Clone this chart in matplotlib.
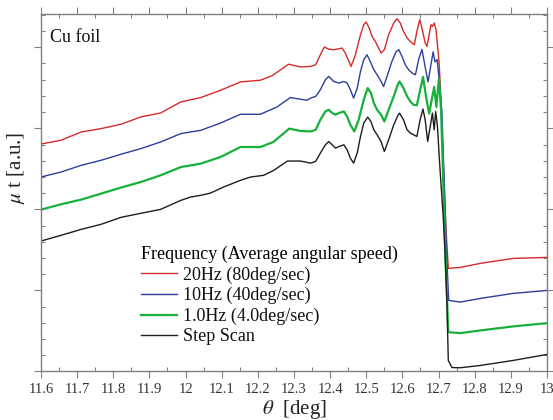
import numpy as np
import matplotlib
matplotlib.use("Agg")
import matplotlib.pyplot as plt
from matplotlib.ticker import MultipleLocator, NullFormatter

plt.rcParams["font.family"] = ["Liberation Serif", "DejaVu Serif"]
plt.rcParams["mathtext.fontset"] = "stix"

# values (theta [deg], mu t [a.u.])
theta_red = [11.600, 11.655, 11.711, 11.766, 11.821, 11.876, 11.931, 11.987, 12.042, 12.097,
             12.152, 12.207, 12.240, 12.285, 12.318, 12.346, 12.360, 12.373, 12.384, 12.396,
             12.410, 12.424, 12.433, 12.442, 12.452, 12.458, 12.470, 12.484, 12.493, 12.500,
             12.510, 12.516, 12.525, 12.534, 12.541, 12.550, 12.562, 12.576, 12.585, 12.594,
             12.603, 12.613, 12.620, 12.627, 12.633, 12.640, 12.648, 12.654, 12.663, 12.668,
             12.674, 12.679, 12.683, 12.688, 12.693, 12.697, 12.702, 12.707, 12.713, 12.720,
             12.727, 12.760, 12.815, 12.906, 13.000]
mu_red = [2.806, 2.852, 2.954, 2.996, 3.049, 3.140, 3.189, 3.325, 3.379, 3.469,
          3.572, 3.593, 3.650, 3.790, 3.757, 3.763, 3.784, 3.907, 4.002, 3.977,
          3.969, 3.981, 3.990, 3.928, 3.825, 3.763, 3.907, 4.154, 4.278, 4.311,
          4.216, 4.133, 4.072, 3.990, 3.928, 3.969, 4.154, 4.299, 4.352, 4.299,
          4.195, 4.114, 4.080, 4.052, 4.031, 4.195, 4.340, 4.237, 4.052, 4.010,
          4.154, 4.278, 4.257, 4.299, 4.216, 4.031, 3.784, 3.290, 2.600, 1.800,
          1.272, 1.284, 1.333, 1.395, 1.407]

theta_blue = [11.600, 11.655, 11.711, 11.766, 11.821, 11.876, 11.931, 11.987, 12.042, 12.097,
              12.152, 12.207, 12.253, 12.290, 12.336, 12.346, 12.360, 12.373, 12.387, 12.396,
              12.410, 12.424, 12.438, 12.447, 12.456, 12.465, 12.475, 12.484, 12.493, 12.502,
              12.511, 12.521, 12.530, 12.541, 12.548, 12.559, 12.571, 12.583, 12.590, 12.599,
              12.608, 12.617, 12.627, 12.636, 12.645, 12.654, 12.662, 12.671, 12.678, 12.685,
              12.690, 12.696, 12.701, 12.709, 12.716, 12.722, 12.728, 12.760, 12.815, 12.906,
              13.000]
mu_blue = [2.399, 2.460, 2.543, 2.605, 2.679, 2.749, 2.831, 2.935, 2.975, 3.065,
           3.173, 3.173, 3.263, 3.379, 3.346, 3.373, 3.393, 3.475, 3.599, 3.640,
           3.578, 3.558, 3.578, 3.558, 3.475, 3.373, 3.496, 3.701, 3.846, 3.907,
           3.825, 3.722, 3.660, 3.578, 3.516, 3.660, 3.825, 3.948, 3.969, 3.886,
           3.784, 3.722, 3.681, 3.660, 3.850, 3.972, 3.780, 3.572, 3.760, 3.942,
           3.819, 3.848, 3.633, 3.222, 2.300, 1.500, 0.877, 0.856, 0.901, 0.963,
           1.000]

theta_green = [11.600, 11.655, 11.711, 11.766, 11.821, 11.876, 11.931, 11.987, 12.042, 12.097,
               12.152, 12.207, 12.243, 12.287, 12.318, 12.346, 12.360, 12.373, 12.387, 12.396,
               12.406, 12.415, 12.424, 12.438, 12.447, 12.456, 12.467, 12.479, 12.493, 12.504,
               12.513, 12.521, 12.530, 12.541, 12.550, 12.562, 12.576, 12.587, 12.592, 12.603,
               12.613, 12.622, 12.631, 12.640, 12.648, 12.657, 12.665, 12.674, 12.681, 12.688,
               12.694, 12.701, 12.707, 12.714, 12.720, 12.727, 12.760, 12.815, 12.906, 13.000]
mu_green = [1.996, 2.062, 2.120, 2.194, 2.268, 2.337, 2.420, 2.522, 2.564, 2.646,
            2.769, 2.769, 2.831, 2.996, 2.967, 2.961, 2.981, 3.105, 3.208, 3.228,
            3.188, 3.167, 3.188, 3.208, 3.146, 3.043, 2.961, 3.105, 3.352, 3.496,
            3.435, 3.311, 3.228, 3.167, 3.084, 3.228, 3.393, 3.537, 3.578, 3.496,
            3.393, 3.331, 3.290, 3.284, 3.450, 3.633, 3.400, 3.181, 3.350, 3.510,
            3.263, 3.614, 3.222, 2.200, 1.300, 0.485, 0.473, 0.506, 0.556, 0.596]

theta_step = [11.600, 11.655, 11.711, 11.766, 11.821, 11.876, 11.931, 11.987, 12.014, 12.042,
              12.069, 12.105, 12.152, 12.180, 12.216, 12.244, 12.282, 12.318, 12.346, 12.360,
              12.373, 12.387, 12.396, 12.406, 12.415, 12.424, 12.438, 12.447, 12.456, 12.465,
              12.475, 12.484, 12.493, 12.504, 12.513, 12.521, 12.530, 12.541, 12.550, 12.562,
              12.576, 12.587, 12.592, 12.603, 12.613, 12.622, 12.631, 12.640, 12.649, 12.657,
              12.663, 12.670, 12.677, 12.683, 12.688, 12.692, 12.697, 12.703, 12.713, 12.718,
              12.723, 12.727, 12.737, 12.760, 12.815, 12.906, 13.000]
mu_step = [1.609, 1.679, 1.753, 1.815, 1.901, 1.951, 2.000, 2.111, 2.152, 2.173,
           2.201, 2.275, 2.358, 2.399, 2.420, 2.481, 2.596, 2.596, 2.570, 2.591,
           2.694, 2.796, 2.837, 2.796, 2.755, 2.775, 2.796, 2.735, 2.632, 2.570,
           2.694, 2.899, 3.064, 3.138, 3.084, 2.981, 2.920, 2.837, 2.714, 2.858,
           3.043, 3.154, 3.188, 3.105, 2.981, 2.941, 2.920, 2.899, 3.105, 3.237,
           3.105, 2.837, 3.022, 3.188, 2.981, 3.207, 3.022, 2.570, 1.901, 1.457,
           0.877, 0.136, 0.049, 0.046, 0.074, 0.136, 0.210]

labels = ["20Hz (80deg/sec)", "10Hz (40deg/sec)", "1.0Hz (4.0deg/sec)", "Step Scan"]
colors = ["#d42b2b", "#2b3f9e", "#17b03a", "#1e1e1e"]

fig = plt.figure(figsize=(5.53, 4.2), dpi=100)
ax = fig.add_axes([0.0741, 0.1155, 0.9150, 0.8512])

series = [(theta_red, mu_red), (theta_blue, mu_blue), (theta_green, mu_green), (theta_step, mu_step)]
widths = [1.0, 1.0, 1.6, 1.0]
for (x, y), lab, c, lw in zip(series, labels, colors, widths):
    ax.plot(x, y, color=c, lw=lw, label=lab)

ax.set_xlim(11.6, 13.0)
ax.set_ylim(0, 4.41)
ax.xaxis.set_minor_locator(MultipleLocator(0.05))
ax.yaxis.set_major_locator(MultipleLocator(1))
ax.yaxis.set_minor_locator(MultipleLocator(0.2))
ax.yaxis.set_major_formatter(NullFormatter())
ax.set_xticks(np.arange(11.6, 13.01, 0.1))
ax.set_xticklabels(["11.6", "11.7", "11.8", "11.9", "12", "12.1", "12.2", "12.3",
                    "12.4", "12.5", "12.6", "12.7", "12.8", "12.9", "13"])

for s in ax.spines.values():
    s.set_color("#808080")
    s.set_linewidth(1.0)
ax.tick_params(which="major", direction="out", length=5, width=0.8, color="#808080",
               top=True, right=True, labelsize=10.5, labelcolor="#333333", pad=3)
ax.tick_params(which="minor", direction="in", length=3, width=0.8, color="#808080",
               top=True, right=True)

ax.set_xlabel(r"$\theta$  [deg]", fontsize=15, labelpad=2, color="#222222")
ax.set_ylabel(r"$\mu$ t [a.u.]", fontsize=15, color="#222222")
ax.yaxis.set_label_coords(-0.028, 0.57)

ax.text(0.017, 0.935, "Cu foil", transform=ax.transAxes, fontsize=13,
        ha="left", va="center", color="#111111")

leg = ax.legend(loc="upper left", bbox_to_anchor=(141 / 553, 1 - 246 / 420),
                bbox_transform=fig.transFigure, frameon=False, fontsize=13,
                title="Frequency (Average angular speed)", title_fontsize=13,
                handlelength=2.0, handletextpad=0.3, labelspacing=0.18,
                borderpad=0, borderaxespad=0, alignment="left")
for t in leg.get_texts():
    t.set_color("#111111")

fig.savefig("out.png", dpi=100)
